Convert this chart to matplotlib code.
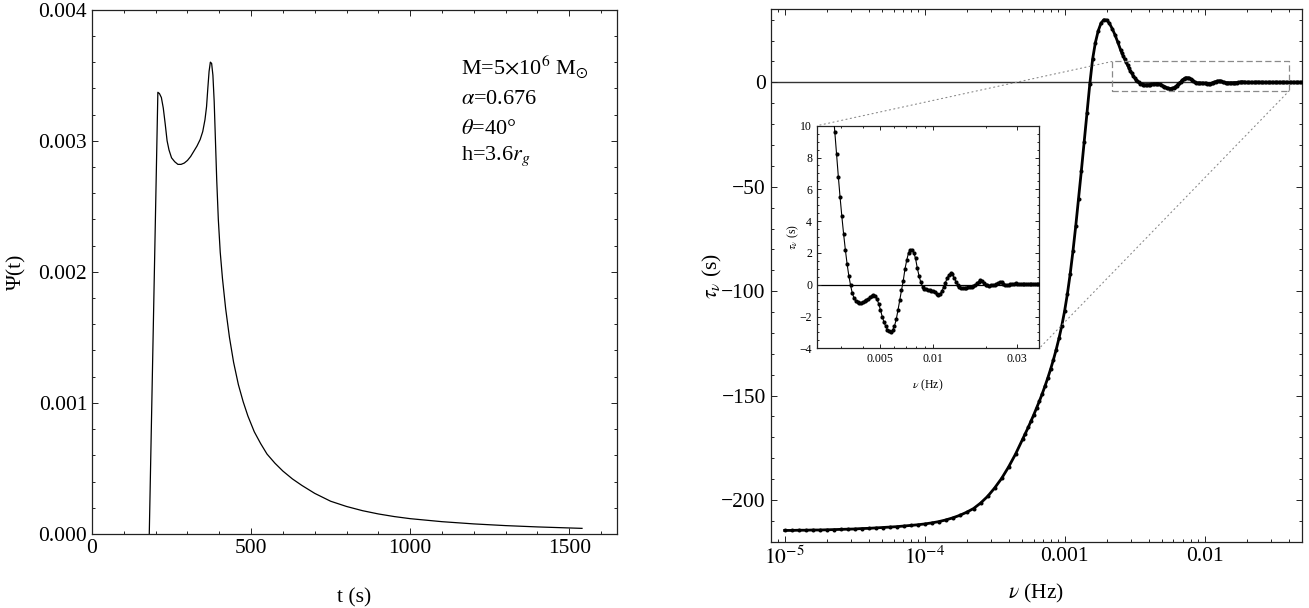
import numpy as np
import matplotlib
matplotlib.use("Agg")
import matplotlib.pyplot as plt
from matplotlib.patches import Rectangle, ConnectionPatch
from matplotlib.ticker import FixedLocator, FixedFormatter, MultipleLocator, FormatStrFormatter, LogLocator, NullFormatter

# ---------------- data: left panel (response function) ----------------
t_s = [180, 207, 212, 218, 224, 230, 236, 242, 250, 260, 270, 280, 290, 300, 310, 320,
       330, 340, 348, 355, 360, 364, 368, 372, 376, 380, 384, 388, 392, 397, 403, 410,
       420, 432, 445, 460, 475, 490, 510, 530, 550, 575, 600, 630, 660, 700, 750, 800,
       850, 900, 950, 1000, 1100, 1200, 1300, 1400, 1540]
psi = [0.0, 0.00337, 0.00336, 0.00333, 0.00325, 0.00313, 0.00300, 0.00293, 0.00287,
       0.00284, 0.00282, 0.00282, 0.00283, 0.00285, 0.00288, 0.00292, 0.00296, 0.00301,
       0.00307, 0.00316, 0.00326, 0.00340, 0.00353, 0.00360, 0.00359, 0.00350, 0.00330,
       0.00300, 0.00270, 0.00240, 0.00215, 0.00195, 0.00172, 0.00150, 0.00131, 0.00114,
       0.00101, 0.00090, 0.00078, 0.00069, 0.00061, 0.00054, 0.00048, 0.00042, 0.00037,
       0.00031, 0.00025, 0.00021, 0.000178, 0.000153, 0.000133, 0.000117, 0.000094,
       0.000077, 0.000064, 0.000054, 0.000043]

# ---------------- data: right panel (time lag vs frequency) ----------------
nu_log10 = [
    -5.00, -4.95, -4.90, -4.85, -4.80, -4.75, -4.70, -4.65, -4.60, -4.55, -4.50, -4.45,
    -4.40, -4.35, -4.30, -4.25, -4.20, -4.15, -4.10, -4.05, -4.00, -3.95, -3.90, -3.85,
    -3.80, -3.75, -3.70, -3.65, -3.60, -3.55, -3.50, -3.45, -3.40, -3.35,
    -3.30, -3.28, -3.26, -3.24, -3.22, -3.20, -3.18, -3.16, -3.14, -3.12, -3.10, -3.08,
    -3.06, -3.04, -3.02, -3.00, -2.98, -2.96, -2.94, -2.92, -2.90, -2.88, -2.86, -2.84,
    -2.82, -2.80, -2.78, -2.76, -2.74, -2.72, -2.70, -2.68, -2.66, -2.64, -2.62,
    -2.60, -2.59, -2.58, -2.57, -2.56, -2.55, -2.54, -2.53, -2.52, -2.51, -2.50, -2.49,
    -2.48, -2.47, -2.46, -2.45, -2.44, -2.43, -2.42, -2.41, -2.40, -2.39, -2.38, -2.37,
    -2.36, -2.35, -2.34, -2.33, -2.32, -2.31, -2.30, -2.29, -2.28, -2.27, -2.26, -2.25,
    -2.24, -2.23, -2.22, -2.21, -2.20, -2.19, -2.18, -2.17, -2.16, -2.15, -2.14, -2.13,
    -2.12, -2.11, -2.10, -2.09, -2.08, -2.07, -2.06, -2.05, -2.04, -2.03, -2.02, -2.01,
    -2.00, -1.99, -1.98, -1.97, -1.96, -1.95, -1.94, -1.93, -1.92, -1.91, -1.90, -1.89,
    -1.88, -1.87, -1.86, -1.85, -1.84, -1.83, -1.82, -1.81, -1.80, -1.79, -1.78, -1.77,
    -1.76, -1.75, -1.74, -1.73, -1.72, -1.71, -1.70, -1.69, -1.68, -1.67, -1.66, -1.65,
    -1.64, -1.63, -1.62, -1.61, -1.60, -1.59, -1.58, -1.57, -1.56, -1.55, -1.54, -1.53,
    -1.52, -1.51, -1.50, -1.49, -1.48, -1.47, -1.46, -1.45, -1.44, -1.43, -1.42, -1.41,
    -1.40, -1.39, -1.38, -1.37, -1.36, -1.35, -1.34, -1.33, -1.32, -1.31, -1.30]
tau = [
    -214.6, -214.6, -214.5, -214.5, -214.4, -214.4, -214.3, -214.2, -214.1, -214.0, -213.9, -213.7,
    -213.6, -213.4, -213.2, -213.0, -212.8, -212.5, -212.2, -211.9, -211.5, -211.0, -210.4, -209.6,
    -208.6, -207.4, -205.9, -204.1, -201.5, -198.3, -194.3, -189.7, -184.2, -178.0,
    -171.0, -168.2, -165.3, -162.3, -159.2, -156.0, -152.7, -149.2, -145.5, -141.6, -137.4, -132.9,
    -128.0, -122.6, -116.6, -109.6, -101.4, -91.8, -80.8, -68.7, -55.7, -42.3, -28.6, -14.8,
    -1.0, 11.0, 19.0, 24.6, 28.3, 30.0, 29.9, 28.3, 25.8, 22.8, 19.3,
    15.6, 14.0, 12.5, 11.0, 9.6, 8.2, 6.8, 5.5, 4.3, 3.2, 2.2, 1.3,
    0.55, -0.05, -0.55, -0.85, -1.03, -1.11, -1.13, -1.12, -1.09, -1.05, -0.98, -0.90,
    -0.80, -0.70, -0.65, -0.72, -0.90, -1.20, -1.58, -2.00, -2.35, -2.62, -2.82, -2.94,
    -2.95, -2.85, -2.60, -2.18, -1.60, -0.96, -0.35, 0.25, 1.00, 1.55, 2.00, 2.20,
    2.20, 2.02, 1.65, 1.05, 0.55, 0.15, -0.12, -0.25, -0.30, -0.33, -0.35, -0.38,
    -0.42, -0.48, -0.57, -0.64, -0.58, -0.40, -0.15, 0.12, 0.40, 0.62, 0.72, 0.65,
    0.45, 0.20, -0.02, -0.13, -0.18, -0.20, -0.20, -0.19, -0.17, -0.15, -0.12, -0.08,
    -0.02, 0.08, 0.20, 0.29, 0.24, 0.10, 0.00, -0.05, -0.06, -0.05, -0.03, -0.01,
    0.03, 0.10, 0.17, 0.14, 0.06, 0.01, -0.01, 0.00, 0.02, 0.04, 0.07, 0.09,
    0.07, 0.04, 0.02, 0.02, 0.03, 0.04, 0.05, 0.06, 0.05, 0.04, 0.03, 0.03,
    0.04, 0.04, 0.04, 0.04, 0.03, 0.03, 0.03, 0.02, 0.02, 0.02, 0.02]
nu_hz = 10.0 ** np.array(nu_log10)

# zoom window (shown as dashed box and as inset)
zoom_x = (0.00218, 0.0403)
zoom_y = (-4, 10)

# annotation lines
params = [r"M=5$\times$10$^{6}$ M$_{\odot}$", r"$\alpha$=0.676", r"$\theta$=40°", r"h=3.6$r_g$"]

# ---------------- style ----------------
plt.rcParams["font.family"] = ["Liberation Serif", "DejaVu Serif"]
plt.rcParams["mathtext.fontset"] = "stix"
plt.rcParams["axes.linewidth"] = 0.9
plt.rcParams["axes.edgecolor"] = "#222222"

W, H = 1309, 608
fig = plt.figure(figsize=(W / 100, H / 100), dpi=100)

def px_axes(l, t, r, b):
    return fig.add_axes([l / W, 1 - b / H, (r - l) / W, (b - t) / H])

def style(ax, size):
    ax.tick_params(which="both", direction="in", top=True, right=True, width=0.7,
                   colors="#222222", labelcolor="black", labelsize=size)
    ax.tick_params(which="major", length=4.5)
    ax.tick_params(which="minor", length=2.2)

# ---------------- left panel ----------------
ax1 = px_axes(92, 9.7, 617, 534)
ax1.plot(t_s, psi, color="black", lw=0.9)
ax1.set_xlim(0, 1650)
ax1.set_ylim(0, 0.004)
ax1.xaxis.set_major_locator(MultipleLocator(500))
ax1.xaxis.set_minor_locator(MultipleLocator(100))
ax1.yaxis.set_major_locator(MultipleLocator(0.001))
ax1.yaxis.set_minor_locator(MultipleLocator(0.0002))
ax1.yaxis.set_major_formatter(FormatStrFormatter("%.3f"))
style(ax1, 15.5)
ax1.text(0.5, (534 - 598) / 524.3, "t (s)", transform=ax1.transAxes, ha="center", va="center", fontsize=15.5)
ax1.text((17 - 92) / 525, 0.5, "Ψ(t)", transform=ax1.transAxes, ha="center", va="center",
         rotation=90, fontsize=15.5)
for i, s in enumerate(params):
    yc = [67, 100, 129, 156][i]
    fig.text(461 / W, 1 - yc / H, s, ha="left", va="center", fontsize=16)

# ---------------- right panel ----------------
ax2 = px_axes(770.7, 9.3, 1302, 541.7)
ax2.axhline(0, color="#333333", lw=1.0, zorder=1)
ax2.plot(nu_hz, tau, color="black", lw=2.0, marker="o", ms=2.9, mew=0, zorder=3)
ax2.set_xscale("log")
ax2.set_xlim(7.95e-6, 0.0497)
ax2.set_ylim(-220, 35)
ax2.xaxis.set_major_locator(FixedLocator([1e-5, 1e-4, 1e-3, 1e-2]))
ax2.xaxis.set_major_formatter(FixedFormatter([r"$10^{-5}$", r"$10^{-4}$", "0.001", "0.01"]))
ax2.xaxis.set_minor_locator(LogLocator(base=10, subs=np.arange(2, 10), numticks=20))
ax2.xaxis.set_minor_formatter(NullFormatter())
ax2.yaxis.set_major_locator(MultipleLocator(50))
ax2.yaxis.set_minor_locator(MultipleLocator(10))
style(ax2, 15.5)
ax2.text(0.5, (541.7 - 593) / 532.4, r"$\nu$ (Hz)", transform=ax2.transAxes, ha="center",
         va="center", fontsize=15.5)
ax2.text((712 - 770.7) / 531.3, 0.5, r"$\tau_\nu$ (s)", transform=ax2.transAxes, ha="center",
         va="center", rotation=90, fontsize=15.5)

ax2.add_patch(Rectangle((zoom_x[0], zoom_y[0]), zoom_x[1] - zoom_x[0], zoom_y[1] - zoom_y[0],
                        fill=False, ec="#8a8a8a", lw=0.9, ls=(0, (5, 2.5)), zorder=4))

# ---------------- inset ----------------
ax3 = px_axes(817, 125.7, 1039.3, 348.3)
ax3.axhline(0, color="black", lw=0.9, zorder=1)
ax3.plot(nu_hz, tau, color="black", lw=0.8, marker="o", ms=3.0, mew=0, zorder=3)
ax3.set_xscale("log")
ax3.set_xlim(*zoom_x)
ax3.set_ylim(*zoom_y)
ax3.xaxis.set_major_locator(FixedLocator([0.005, 0.01, 0.03]))
ax3.xaxis.set_major_formatter(FixedFormatter(["0.005", "0.01", "0.03"]))
ax3.xaxis.set_minor_locator(FixedLocator([0.003, 0.004, 0.006, 0.007, 0.008, 0.009, 0.02, 0.04]))
ax3.xaxis.set_minor_formatter(NullFormatter())
ax3.yaxis.set_major_locator(MultipleLocator(2))
ax3.yaxis.set_minor_locator(MultipleLocator(0.5))
style(ax3, 8.5)
ax3.tick_params(which="major", length=3)
ax3.tick_params(which="minor", length=1.6)
ax3.text(0.5, (348.3 - 385) / 222.6, r"$\nu$ (Hz)", transform=ax3.transAxes, ha="center",
         va="center", fontsize=8.5)
ax3.text((793 - 817) / 222.3, 0.5, r"$\tau_\nu$ (s)", transform=ax3.transAxes, ha="center",
         va="center", rotation=90, fontsize=8.5)

for xyA, xyB in [((zoom_x[0], zoom_y[1]), (0, 1)), ((zoom_x[1], zoom_y[0]), (1, 0))]:
    con = ConnectionPatch(xyA=xyA, coordsA=ax2.transData, xyB=xyB, coordsB=ax3.transAxes,
                          color="#8a8a8a", lw=0.8, ls=(0, (1, 3)), zorder=2)
    fig.add_artist(con)

fig.savefig("out.png", dpi=100)
